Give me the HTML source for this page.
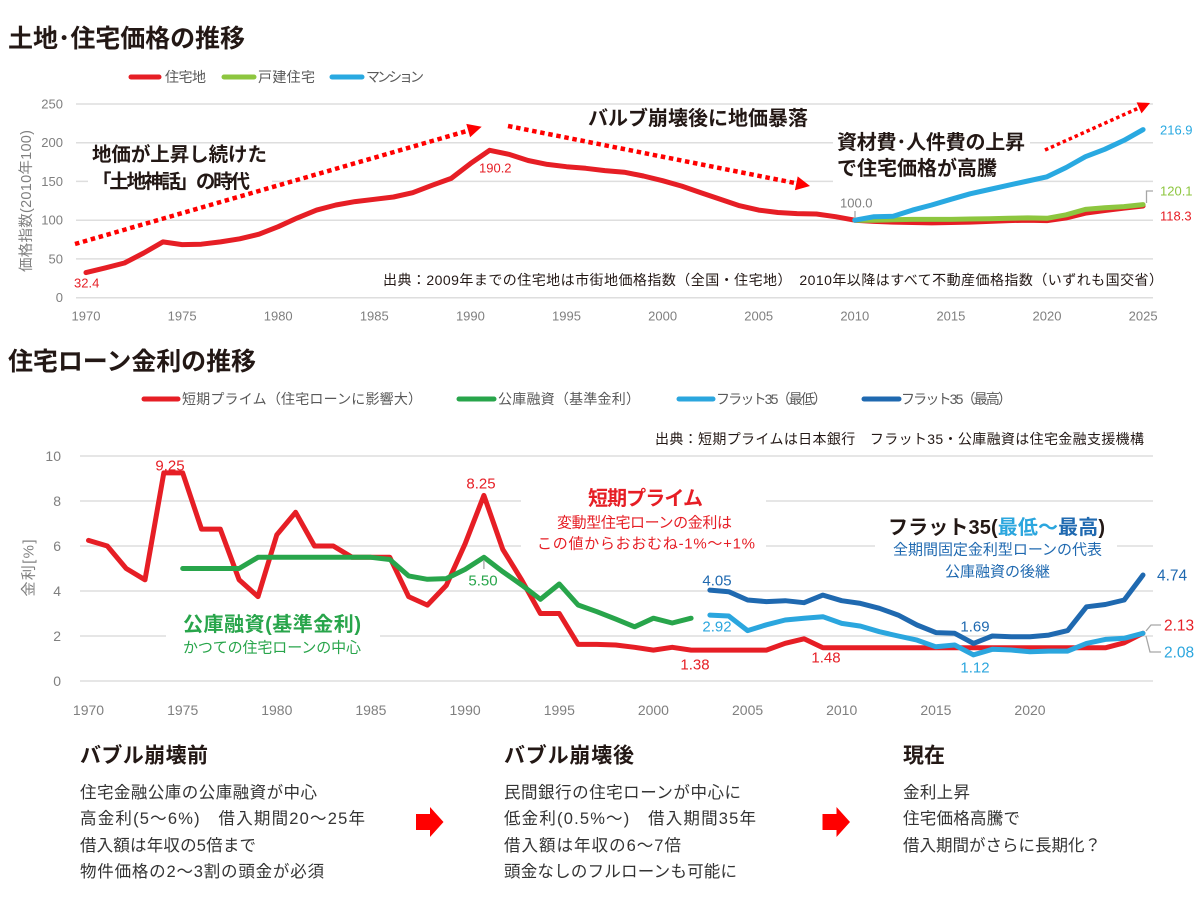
<!DOCTYPE html>
<html><head><meta charset="utf-8"><style>
html,body{margin:0;padding:0;background:#fff;}
svg{display:block;font-family:"Liberation Sans","Noto Sans CJK JP",sans-serif;}
</style></head><body>
<svg width="1200" height="902" viewBox="0 0 1200 902" xmlns="http://www.w3.org/2000/svg">
<rect width="1200" height="902" fill="#fff"/>

<!-- ================= TOP CHART ================= -->
<text x="8" y="39" font-size="25" font-weight="bold" fill="#231815" dominant-baseline="central" textLength="237">土地･住宅価格の推移</text>

<!-- legend -->
<g stroke-width="5" stroke-linecap="round">
<line x1="131" y1="77" x2="159" y2="77" stroke="#e61e25"/>
<line x1="224" y1="77" x2="254" y2="77" stroke="#8dc63f"/>
<line x1="332" y1="77" x2="362" y2="77" stroke="#29a9e1"/>
</g>
<g font-size="14" fill="#595959" dominant-baseline="central">
<text x="165" y="77" textLength="41">住宅地</text>
<text x="258" y="77" textLength="57">戸建住宅</text>
<text x="366" y="77" textLength="58">マンション</text>
</g>

<!-- gridlines -->
<g stroke="#dedede" stroke-width="1.5">
<line x1="76" y1="104" x2="1153" y2="104"/>
<line x1="76" y1="142.7" x2="1153" y2="142.7"/>
<line x1="76" y1="181.4" x2="1153" y2="181.4"/>
<line x1="76" y1="220.2" x2="1153" y2="220.2"/>
<line x1="76" y1="258.9" x2="1153" y2="258.9"/>
<line x1="76" y1="297.7" x2="1153" y2="297.7"/>
</g>
<!-- text boxes hiding gridlines -->
<rect x="88" y="147" width="184" height="48" fill="#fff"/>
<rect x="833" y="128" width="197" height="57" fill="#fff"/>

<!-- y ticks -->
<g font-size="13" fill="#7f7f7f" text-anchor="end" dominant-baseline="central">
<text x="63" y="104">250</text>
<text x="63" y="142.7">200</text>
<text x="63" y="181.4">150</text>
<text x="63" y="220.2">100</text>
<text x="63" y="258.9">50</text>
<text x="63" y="297.7">0</text>
</g>
<text x="27" y="201" font-size="14.5" fill="#7f7f7f" text-anchor="middle" dominant-baseline="central" transform="rotate(-90 27 201)" textLength="142">価格指数(2010年100)</text>

<!-- x labels -->
<g font-size="13" fill="#7f7f7f" text-anchor="middle" dominant-baseline="central">
<text x="86" y="316">1970</text>
<text x="182.1" y="316">1975</text>
<text x="278.2" y="316">1980</text>
<text x="374.3" y="316">1985</text>
<text x="470.4" y="316">1990</text>
<text x="566.5" y="316">1995</text>
<text x="662.6" y="316">2000</text>
<text x="758.7" y="316">2005</text>
<text x="854.8" y="316">2010</text>
<text x="950.9" y="316">2015</text>
<text x="1047" y="316">2020</text>
<text x="1143.1" y="316">2025</text>
</g>

<!-- annotation texts -->
<g font-size="19.5" font-weight="bold" fill="#231815" dominant-baseline="central">
<text x="92" y="155" textLength="175">地価が上昇し続けた</text>
<text x="92" y="182" textLength="158">「土地神話」の時代</text>
<text x="588" y="119" font-size="20" textLength="220">バルブ崩壊後に地価暴落</text>
<text x="837" y="143" font-size="20" textLength="188">資材費･人件費の上昇</text>
<text x="837" y="169" font-size="20" textLength="160">で住宅価格が高騰</text>
</g>

<!-- dotted arrows -->
<g fill="none" stroke="#ff0000">
<line x1="75" y1="244" x2="468.2" y2="130.6" stroke-width="4.5" stroke-dasharray="4.5 3.7"/>
<line x1="508" y1="126" x2="796.3" y2="183.3" stroke-width="4.5" stroke-dasharray="4.5 3.7"/>
<line x1="1045" y1="150" x2="1139" y2="107.9" stroke-width="3.5" stroke-dasharray="3.5 3"/>
</g>
<g fill="#ff0000">
<polygon points="481.7,126.7 470.1,137.3 466.3,123.9"/>
<polygon points="810,186 794.9,190.2 797.7,176.4"/>
<polygon points="1150,103 1141.5,113.4 1136.6,102.4"/>
</g>

<!-- source -->
<text x="383" y="280" font-size="14" fill="#231815" dominant-baseline="central" textLength="780">出典：2009年までの住宅地は市街地価格指数（全国・住宅地）　2010年以降はすべて不動産価格指数（いずれも国交省）</text>

<!-- data lines -->
<g fill="none" stroke-width="5" stroke-linejoin="round" stroke-linecap="round">
<polyline stroke="#e61e25" points="86.0,272.6 105.2,267.9 124.4,263.0 143.7,253.0 162.9,241.9 182.1,244.6 201.3,244.2 220.5,241.9 239.8,238.8 259.0,234.2 278.2,226.7 297.4,217.9 316.6,210.1 335.9,205.0 355.1,201.6 374.3,199.3 393.5,197.0 412.7,192.7 432.0,185.3 451.2,178.4 470.4,163.6 489.6,150.3 508.8,154.3 528.1,160.5 547.3,164.4 566.5,166.7 585.7,168.3 604.9,170.6 624.2,172.2 643.4,176.0 662.6,180.7 681.8,186.1 701.0,192.7 720.3,199.3 739.5,205.7 758.7,210.1 777.9,212.5 797.1,213.6 816.4,214.0 835.6,216.7 854.8,220.2 874.0,221.4 893.2,222.1 912.5,222.5 931.7,222.9 950.9,222.5 970.1,222.1 989.3,221.4 1008.6,220.6 1027.8,220.2 1047.0,220.6 1066.2,217.9 1085.4,213.2 1104.7,210.5 1123.9,208.2 1143.1,206.0"/>
<polyline stroke="#8dc63f" points="854.8,220.2 874.0,220.2 893.2,219.8 912.5,219.4 931.7,219.4 950.9,219.4 970.1,219.0 989.3,218.7 1008.6,218.3 1027.8,217.9 1047.0,218.3 1066.2,214.8 1085.4,209.4 1104.7,207.8 1123.9,206.6 1143.1,204.6"/>
<polyline stroke="#29a9e1" points="854.8,220.2 874.0,216.7 893.2,216.3 912.5,210.1 931.7,205.0 950.9,199.3 970.1,193.8 989.3,189.5 1008.6,185.2 1027.8,181.0 1047.0,176.8 1066.2,167.5 1085.4,156.7 1104.7,149.3 1123.9,140.4 1143.1,129.6"/>
</g>

<!-- leaders -->
<g fill="none" stroke="#a6a6a6" stroke-width="1.3">
<line x1="855" y1="211" x2="855" y2="218"/>
<polyline points="1146.5,203 1146.5,191 1153,191"/>
</g>

<!-- data labels -->
<g font-size="13" dominant-baseline="central">
<text x="74" y="283" fill="#e61e25">32.4</text>
<text x="479" y="168" fill="#e61e25">190.2</text>
<text x="840" y="203" fill="#7f7f7f">100.0</text>
<text x="1160" y="130" fill="#29a9e1">216.9</text>
<text x="1160" y="191" fill="#8dc63f">120.1</text>
<text x="1160" y="216" fill="#e61e25">118.3</text>
</g>

<!-- ================= BOTTOM CHART ================= -->
<text x="8" y="362" font-size="25" font-weight="bold" fill="#231815" dominant-baseline="central" textLength="248">住宅ローン金利の推移</text>

<g stroke-width="5" stroke-linecap="round">
<line x1="144" y1="399" x2="178" y2="399" stroke="#e61e25"/>
<line x1="459" y1="399" x2="494" y2="399" stroke="#28a54b"/>
<line x1="679" y1="399" x2="713" y2="399" stroke="#2ba6de"/>
<line x1="864" y1="399" x2="899" y2="399" stroke="#1f69b0"/>
</g>
<g font-size="14" fill="#595959" dominant-baseline="central">
<text x="182" y="399" textLength="240">短期プライム（住宅ローンに影響大）</text>
<text x="498" y="399" textLength="142">公庫融資（基準金利）</text>
<text x="716" y="399" textLength="111">フラット35（最低）</text>
<text x="901" y="399" textLength="111">フラット35（最高）</text>
</g>

<text x="655" y="439" font-size="14" fill="#231815" dominant-baseline="central" textLength="489">出典：短期プライムは日本銀行　フラット35・公庫融資は住宅金融支援機構</text>

<g stroke="#dedede" stroke-width="1.5">
<line x1="80" y1="456" x2="1153" y2="456"/>
<line x1="80" y1="501" x2="1153" y2="501"/>
<line x1="80" y1="546" x2="1153" y2="546"/>
<line x1="80" y1="591" x2="1153" y2="591"/>
<line x1="80" y1="636" x2="1153" y2="636"/>
<line x1="80" y1="681" x2="1153" y2="681"/>
</g>
<rect x="521" y="483" width="245" height="75" fill="#fff"/>
<rect x="875" y="512" width="242" height="72" fill="#fff"/>
<rect x="166" y="610" width="214" height="50" fill="#fff"/>

<g font-size="14" fill="#7f7f7f" text-anchor="end" dominant-baseline="central">
<text x="61" y="456">10</text>
<text x="61" y="501">8</text>
<text x="61" y="546">6</text>
<text x="61" y="591">4</text>
<text x="61" y="636">2</text>
<text x="61" y="681">0</text>
</g>
<text x="29" y="568" font-size="15" fill="#7f7f7f" text-anchor="middle" dominant-baseline="central" transform="rotate(-90 29 568)" textLength="57">金利[%]</text>

<g font-size="14" fill="#7f7f7f" text-anchor="middle" dominant-baseline="central">
<text x="88.5" y="710">1970</text>
<text x="182.7" y="710">1975</text>
<text x="276.8" y="710">1980</text>
<text x="370.9" y="710">1985</text>
<text x="465.1" y="710">1990</text>
<text x="559.3" y="710">1995</text>
<text x="653.4" y="710">2000</text>
<text x="747.6" y="710">2005</text>
<text x="841.7" y="710">2010</text>
<text x="935.9" y="710">2015</text>
<text x="1030" y="710">2020</text>
</g>

<!-- annotations -->
<g dominant-baseline="central">
<text x="588" y="499" font-size="20" font-weight="bold" fill="#e61e25" textLength="115">短期プライム</text>
<text x="557" y="523" font-size="15" fill="#e61e25" textLength="175">変動型住宅ローンの金利は</text>
<text x="537" y="544" font-size="15" fill="#e61e25" textLength="218">この値からおおむね-1%〜+1%</text>
<text x="888" y="528" font-size="20" font-weight="bold" fill="#231815" textLength="217">フラット35(<tspan fill="#2ba6de">最低〜</tspan><tspan fill="#1f69b0">最高</tspan>)</text>
<text x="893" y="550" font-size="15" fill="#1f69b0" textLength="209">全期間固定金利型ローンの代表</text>
<text x="945" y="572" font-size="15" fill="#1f69b0" textLength="105">公庫融資の後継</text>
<text x="183" y="625" font-size="20" font-weight="bold" fill="#28a54b" textLength="178">公庫融資(基準金利)</text>
<text x="183" y="648" font-size="15" fill="#28a54b" textLength="178">かつての住宅ローンの中心</text>
</g>

<g fill="none" stroke-width="5" stroke-linejoin="round" stroke-linecap="round">
<polyline stroke="#e61e25" points="88.5,540.4 107.3,546.0 126.2,568.5 145.0,579.8 163.8,472.9 182.7,472.9 201.5,529.1 220.3,529.1 239.1,579.8 258.0,596.6 276.8,534.8 295.6,512.3 314.5,546.0 333.3,546.0 352.1,557.3 370.9,557.3 389.8,557.3 408.6,596.6 427.4,605.1 446.3,585.4 465.1,543.8 483.9,495.4 502.8,549.4 521.6,579.8 540.4,613.5 559.3,613.5 578.1,644.4 596.9,644.4 615.7,645.0 634.6,647.3 653.4,650.1 672.2,647.3 691.1,650.1 709.9,650.1 728.7,650.1 747.6,650.1 766.4,650.1 785.2,643.3 804.0,638.8 822.9,647.8 1105.3,647.8 1124.2,642.8 1143.0,633.2"/>
<polyline stroke="#28a54b" points="182.7,568.5 201.5,568.5 220.3,568.5 239.1,568.5 258.0,557.3 370.9,557.3 389.8,559.5 408.6,575.9 427.4,579.3 446.3,578.6 465.1,569.4 483.9,557.3 502.8,571.7 521.6,584.9 540.4,599.3 559.3,584.0 578.1,605.0 596.9,611.7 615.7,619.1 634.6,626.8 653.4,618.2 672.2,623.0 691.1,618.2"/>
<polyline stroke="#2ba6de" points="709.9,615.1 728.7,616.0 747.6,630.6 766.4,624.8 785.2,620.0 804.0,618.2 822.9,616.7 841.7,623.4 860.5,626.1 879.4,631.7 898.2,636.0 917.0,640.1 935.9,646.8 954.7,645.0 973.5,654.9 992.3,649.3 1011.2,650.0 1030.0,651.8 1048.8,651.1 1067.7,651.1 1086.5,643.4 1105.3,639.4 1124.2,638.3 1143.0,633.3"/>
<polyline stroke="#1f69b0" points="709.9,590.1 728.7,591.7 747.6,600.0 766.4,601.6 785.2,600.7 804.0,602.7 822.9,595.1 841.7,600.7 860.5,603.4 879.4,608.3 898.2,615.1 917.0,625.0 935.9,632.6 954.7,633.3 973.5,643.4 992.3,636.0 1011.2,636.7 1030.0,636.7 1048.8,635.1 1067.7,630.6 1086.5,606.8 1105.3,604.5 1124.2,600.0 1143.0,575.0"/>
</g>

<g fill="none" stroke="#a6a6a6" stroke-width="1.3">
<line x1="483.9" y1="560" x2="483.9" y2="569"/>
<polyline points="1146,631 1151,625 1161,625"/>
<polyline points="1146,636 1150,652 1161,652"/>
</g>

<g font-size="15" text-anchor="middle" dominant-baseline="central">
<text x="170" y="466" fill="#e61e25">9.25</text>
<text x="481" y="484" fill="#e61e25">8.25</text>
<text x="483" y="581" fill="#28a54b">5.50</text>
<text x="717" y="581" fill="#1f69b0">4.05</text>
<text x="717" y="627" fill="#2ba6de">2.92</text>
<text x="695" y="665" fill="#e61e25">1.38</text>
<text x="826" y="658" fill="#e61e25">1.48</text>
<text x="975" y="627" fill="#1f69b0">1.69</text>
<text x="975" y="668" fill="#2ba6de">1.12</text>
</g>
<g font-size="15.5" dominant-baseline="central">
<text x="1157" y="576" fill="#1f69b0">4.74</text>
<text x="1164" y="626" fill="#e61e25">2.13</text>
<text x="1164" y="653" fill="#2ba6de">2.08</text>
</g>

<!-- ================= BOTTOM SECTION ================= -->
<g font-size="21" font-weight="bold" fill="#231815" dominant-baseline="central">
<text x="80" y="756" textLength="128">バブル崩壊前</text>
<text x="504" y="756" textLength="130">バブル崩壊後</text>
<text x="903" y="756" textLength="42">現在</text>
</g>
<g font-size="16.5" fill="#333" dominant-baseline="central">
<text x="80" y="793" textLength="237">住宅金融公庫の公庫融資が中心</text>
<text x="80" y="819" textLength="285">高金利(5〜6%)　借入期間20〜25年</text>
<text x="80" y="846" textLength="176">借入額は年収の5倍まで</text>
<text x="80" y="872" textLength="244">物件価格の2〜3割の頭金が必須</text>
<text x="504" y="793" textLength="237">民間銀行の住宅ローンが中心に</text>
<text x="504" y="819" textLength="252">低金利(0.5%〜)　借入期間35年</text>
<text x="504" y="846" textLength="177">借入額は年収の6〜7倍</text>
<text x="504" y="872" textLength="233">頭金なしのフルローンも可能に</text>
<text x="903" y="793" textLength="67">金利上昇</text>
<text x="903" y="819" textLength="117">住宅価格高騰で</text>
<text x="903" y="846" textLength="198">借入期間がさらに長期化？</text>
</g>
<g fill="#ff0000">
<polygon points="416,814 430,814 430,807 443.5,822 430,837 430,830 416,830"/>
<polygon points="822.5,814 836.5,814 836.5,807 850,822 836.5,837 836.5,830 822.5,830"/>
</g>
</svg>
</body></html>
